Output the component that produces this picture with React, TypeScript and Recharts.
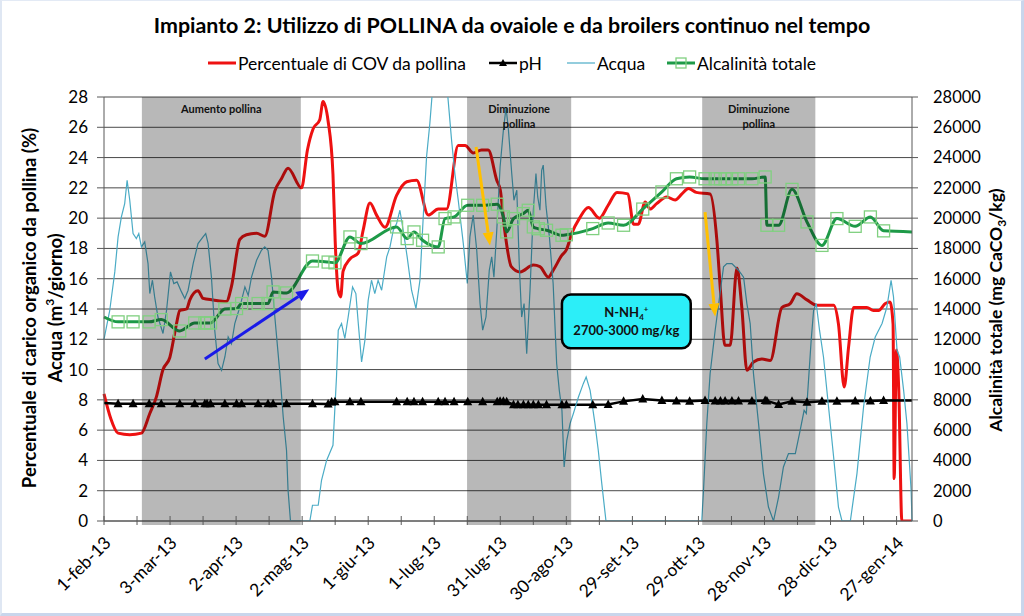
import { CartesianGrid, Line, LineChart, ReferenceArea, ReferenceLine, XAxis, YAxis } from "recharts";

// days counted from 1-feb-13
const tickDays = [0, 30, 60, 90, 120, 150, 180, 210, 240, 270, 300, 330, 360];
const tickLabels = [
  "1-feb-13", "3-mar-13", "2-apr-13", "2-mag-13", "1-giu-13", "1-lug-13", "31-lug-13",
  "30-ago-13", "29-set-13", "29-ott-13", "28-nov-13", "28-dic-13", "27-gen-14",
];
const minorTickDays = [0, 15, 30, 45, 60, 75, 90, 105, 120, 135, 150, 165, 180, 195, 210, 225, 240, 255, 270, 285, 300, 315, 330, 345, 360];
const leftTicks = [0, 2, 4, 6, 8, 10, 12, 14, 16, 18, 20, 22, 24, 26, 28];
const rightTicks = [0, 2000, 4000, 6000, 8000, 10000, 12000, 14000, 16000, 18000, 20000, 22000, 24000, 26000, 28000];

// Percentuale di COV da pollina (%)
const covPoints: [number, number][] = [
  [0, 8.4], [3, 6.8], [6.4, 5.8], [11.7, 5.7], [17, 5.8], [20.8, 7.1], [23.8, 8.2], [26.8, 10.0],
  [29.9, 10.8], [32.9, 13.0], [34.4, 13.9], [37.5, 14.0], [39, 14.6], [42.7, 15.2], [45, 14.7],
  [49.5, 14.6], [55.6, 14.5], [57.9, 15.5], [61.7, 18.6], [64.7, 18.9], [69.3, 19.0], [73, 18.8],
  [77.6, 21.8], [80.6, 22.6], [83.6, 23.3], [89.7, 22.0], [92.4, 24.5], [95, 25.9], [98, 26.5],
  [99.5, 27.7], [101.8, 26.4], [104, 22.9], [105, 18.5], [106.4, 15.2], [107.5, 14.8], [108.6, 16.5],
  [111.7, 17.3], [115.5, 17.7], [117.7, 19.2], [120.8, 21.0], [123.8, 20.2], [127.6, 19.4],
  [132.9, 21.5], [137.5, 22.4], [142, 22.5], [147.3, 20.2], [151.8, 20.6], [155.6, 20.6],
  [160.9, 24.8], [164, 24.8], [167.7, 24.3], [171.5, 24.5], [174.5, 24.5], [178.4, 22.5],
  [180, 21.85], [182, 19.2], [185, 16.8], [189, 16.45], [195, 16.9], [198, 16.8], [201.8, 16.1],
  [204, 16.55], [208, 17.55], [210, 17.9], [212.5, 19.0], [216, 20.0], [220, 20.7], [225, 20.0],
  [229, 20.85], [233, 21.7], [238, 21.6], [240.5, 19.6], [242.7, 19.6], [245.8, 21.07], [248, 20.6],
  [251, 20.96], [255.6, 21.4], [259.4, 21.2], [262.5, 21.6], [265.5, 21.95], [269, 21.7],
  [275.3, 21.6], [278.4, 18.5], [280, 15.2], [282, 11.6], [284.4, 11.6], [287.5, 16.7], [289.7, 14.1],
  [292, 9.95], [295, 10.5], [298.8, 10.7], [302.6, 10.6], [307.9, 14.1], [311.7, 14.36], [314.7, 15.0],
  [319.3, 14.6], [323.8, 14.25], [331.4, 14.25], [333.6, 13.0], [336.2, 8.85], [338.2, 11.5],
  [340.5, 14.1], [346.5, 14.1], [349.5, 13.9], [351.8, 13.9], [354.9, 14.36], [357, 14.46],
  [358.4, 13.0], [358.9, 2.8], [359.9, 11.3], [361, 8.6], [362.4, 0], [367, 0],
];

// pH
const phPoints: [number, number][] = [
  [0, 7.8], [6.4, 7.75], [13.2, 7.75], [20.5, 7.75], [26, 7.75], [34.4, 7.75], [41.2, 7.75],
  [45.8, 7.75], [46.8, 7.75], [48.4, 7.75], [54.9, 7.75], [60.2, 7.75], [62.5, 7.75], [70, 7.75],
  [74.5, 7.75], [76.8, 7.75], [82.9, 7.75], [94.7, 7.75], [101.8, 7.72], [103.4, 7.86], [104.9, 7.88],
  [111.7, 7.88], [116.7, 7.88], [132.9, 7.88], [137.7, 7.88], [140.8, 7.88], [144.7, 7.88],
  [151.8, 7.88], [154.9, 7.88], [159, 7.88], [165.2, 7.88], [172, 7.88], [178.6, 7.88], [179.9, 7.9],
  [181.4, 7.9], [182.9, 7.88], [186, 7.68], [188, 7.68], [190.5, 7.68], [192.7, 7.68], [195, 7.68],
  [197.3, 7.68], [201, 7.68], [208, 7.68], [210, 7.68], [222, 7.68], [229, 7.7], [236, 7.9],
  [244.7, 8.05], [253.4, 7.95], [260, 7.92], [266, 7.9], [273, 7.95], [277.6, 7.93], [280, 7.93],
  [282.1, 7.93], [285.2, 7.93], [288.2, 7.93], [294.3, 7.93], [300.3, 7.95], [301.1, 7.93],
  [306.4, 7.7], [312.5, 7.9], [319.3, 7.85], [326.1, 7.9], [332.9, 7.9], [341.2, 7.92],
  [348.1, 7.92], [354.1, 7.95], [367, 7.95],
];

// Acqua (m3/giorno)
const acquaPoints: [number, number][] = [
  [0, 12.0], [2.6, 13.9], [4.9, 16.45], [6.4, 18.76], [7.9, 20.08], [9.4, 20.96], [10.5, 22.5],
  [11.7, 21.18], [13.2, 18.98], [14.7, 18.65], [15.8, 18.98], [17, 18.1], [18.5, 18.43], [20, 17.0],
  [20.8, 15.02], [22, 15.9], [23, 14.8], [24.5, 13.47], [26.8, 12.38], [28.4, 13.9], [30.2, 16.45],
  [31.7, 15.68], [33.2, 15.79], [35.2, 15.13], [36.7, 14.69], [38.2, 15.24], [40.5, 17.0],
  [42.7, 18.32], [45, 18.76], [46.2, 18.98], [47.3, 18.32], [48.8, 16.1], [50.3, 12.6], [51.8, 10.4],
  [53.4, 9.95], [54.9, 10.83], [56.4, 12.15], [57.9, 11.7], [59.4, 13.04], [61.7, 14.13], [64, 15.46],
  [65.5, 14.9], [67, 16.1], [69.3, 17.22], [71.5, 17.88], [73, 18.1], [74.5, 17.88], [76.1, 16.1],
  [77.6, 13.47], [79.9, 9.73], [81.4, 6.87], [82.9, 4.67], [83.6, 2.03], [84.7, 0], [93.5, 0],
  [94.7, 1.04], [97.3, 1.04], [98.8, 2.69], [101.1, 4.0], [104, 5.0], [105.6, 9.51], [106.4, 12.6],
  [107.9, 13.04], [109.4, 12.05], [110.9, 13.47], [112.9, 15.46], [114.4, 15.02], [115.5, 13.04],
  [117, 10.5], [118.5, 11.93], [120, 14.58], [121.5, 15.9], [123, 15.02], [124.5, 15.9],
  [126.1, 15.24], [128.4, 17.44], [129.9, 18.1], [131.4, 19.2], [132.9, 19.64], [134.4, 20.52],
  [135.9, 19.2], [137.7, 17.44], [139.7, 15.24], [141.7, 14.03], [143.5, 15.9], [145, 20.08],
  [146.5, 24.04], [148, 26.25], [149.5, 29], [151, 31], [154, 31], [155.6, 29], [157.9, 25.1],
  [159.4, 22.9], [160.9, 21.18], [163.2, 18.32], [165, 15.68], [166.2, 18.76], [167.7, 20.2],
  [169.3, 17.88], [170.8, 14.36], [172, 12.6], [173.5, 13.47], [175, 16.56], [176.1, 17.44],
  [177.1, 16.1], [178.4, 19.2], [179.9, 23.38], [181.4, 25.8], [182.6, 27.3], [183.6, 26.0],
  [185.2, 22.95], [186.2, 21.18], [187.5, 21.84], [188.6, 17.0], [189.7, 13.47], [190.8, 14.36],
  [192, 11.05], [193.5, 15.24], [195, 20.52], [196.2, 22.95], [197, 21.4], [198, 20.52],
  [198.8, 23.16], [199.5, 23.5], [200.8, 20.74], [202.3, 18.76], [204, 15.68], [205.6, 10.4],
  [206.8, 8.63], [208, 7.31], [209, 3.57], [210.2, 5.33], [211.7, 6.43], [213.2, 7.1], [215.5, 8.19],
  [217.7, 9.07], [219, 9.51], [220.8, 8.63], [223, 6.43], [224.5, 4.67], [226.1, 2.47], [228, 0],
  [271.5, 0], [272.3, 2.03], [273.8, 6.43], [275.3, 9.73], [277.6, 12.6], [280, 15.24],
  [281.4, 16.78], [282.9, 17.0], [285.2, 17.0], [288.2, 16.56], [290.5, 16.1], [292, 14.36],
  [293.5, 13.04], [295, 9.73], [297.3, 6.43], [299.5, 3.13], [301.8, 0.92], [304.1, 0],
  [306.4, 1.58], [308.6, 3.57], [310.9, 4.45], [314, 4.45], [316.2, 5.99], [318, 7.31], [319, 7.1],
  [320, 9.29], [321.2, 11.93], [322.3, 13.9], [323.5, 14.36], [325, 12.6], [326.8, 10.83],
  [329.1, 7.53], [331.4, 4.23], [333.6, 0.92], [335.2, 0], [339, 0], [342, 3.13], [345, 7.53],
  [348, 10.83], [350.3, 12.15], [353.4, 13.04], [355.6, 14.13], [357.5, 15.9], [358.6, 14.8],
  [360.2, 11.27], [361.4, 10.83], [363.2, 8.63], [364.7, 6.43], [366.6, 2.03], [367, 0],
];

// Alcalinità totale (mg CaCO3/kg)
const alcalinitaPoints: [number, number][] = [
  [0, 13470], [6.4, 13150], [13.2, 13150], [20.5, 13150], [26, 13300], [34.4, 12550], [41.2, 13080],
  [45.8, 13080], [46.8, 13080], [48.4, 13080], [54.9, 14000], [60.2, 14030], [62.5, 14360],
  [70, 14360], [74.5, 14360], [76.8, 15130], [82.9, 15060], [94.7, 17170], [101.8, 17100],
  [104.9, 17050], [111.7, 18760], [116.7, 18320], [132.9, 19420], [137.7, 18650], [140.8, 19090],
  [144.7, 18540], [151.8, 18100], [154.9, 19970], [159, 20080], [165.2, 20850], [172, 20850],
  [178.6, 20920], [181.4, 20080], [182.9, 19090], [186, 19970], [190.5, 20300], [192.7, 20520],
  [195, 19420], [197.3, 19300], [201, 19200], [208, 18870], [210, 18900], [222, 19310], [229, 19680],
  [236, 19530], [244.7, 20600], [253.4, 21730], [260, 22600], [266, 22720], [273, 22600],
  [277.6, 22600], [280, 22600], [282.1, 22600], [285.2, 22600], [288.2, 22600], [294.3, 22600],
  [300.3, 22720], [301.1, 19530], [306.4, 19530], [312.5, 21900], [319.3, 19750], [326.1, 18200],
  [332.9, 19970], [341.2, 19460], [348.1, 20080], [354.1, 19160], [367, 19090],
];

const bands = [
  { from: 17.2, to: 89.4, lines: ["Aumento pollina"] },
  { from: 164.9, to: 212.2, lines: ["Diminuzione", "pollina"] },
  { from: 271.7, to: 323.1, lines: ["Diminuzione", "pollina"] },
];

const arrows = [
  { from: [45.8, 10.7], to: [93.2, 15.3], color: "#1a1ae8" },
  { from: [169, 24.7], to: [175.3, 18.2], color: "#ffc000" },
  { from: [273, 20.4], to: [277.6, 13.5], color: "#ffc000" },
];

const ammoniaBox = { from: 208, to: 266.5, low: 11.4, high: 14.95 };

const toRows = (points: [number, number][]) => points.map(([day, value]) => ({ day, value }));

const covRows = toRows(covPoints);
const phRows = toRows(phPoints);
const acquaRows = toRows(acquaPoints);
const alcalinitaRows = toRows(alcalinitaPoints);

const FONT = "Lato, 'Open Sans', sans-serif";

function DateTick({ x, y, payload }: any) {
  const idx = tickDays.indexOf(payload.value);
  const tx = x + 8;
  const ty = y + 23;
  return (
    <g>
      <line x1={x} x2={x} y1={y - 5} y2={y + 4} stroke="#595959" />
      {idx >= 0 && (
        <text
          x={tx}
          y={ty}
          transform={`rotate(-45 ${tx} ${ty})`}
          textAnchor="end"
          fontSize={17.5}
          fontFamily={FONT}
          fill="#000"
        >
          {tickLabels[idx]}
        </text>
      )}
    </g>
  );
}

function TriangleDot({ cx, cy, index }: any) {
  if (index === 0 || index === phRows.length - 1) return <g />;
  return <path d={`M${cx},${cy - 5} L${cx + 4.5},${cy + 3.5} L${cx - 4.5},${cy + 3.5} Z`} fill="#000" />;
}

function SquareDot({ cx, cy, index }: any) {
  if (index === 0 || index === alcalinitaRows.length - 1) return <g />;
  return (
    <rect x={cx - 6} y={cy - 6} width={12} height={12} fill="none" stroke="#80d080" strokeWidth={1.3} />
  );
}

function BandShape({ x, y, width, height, lines }: any) {
  return (
    <g>
      <rect x={x} y={y} width={width} height={height + 4} fill="#000" fillOpacity={0.28} />
      {lines.map((t: string, i: number) => (
        <text
          key={t}
          x={x + width / 2}
          y={y + 16 + i * 15}
          textAnchor="middle"
          fontSize={11}
          fontWeight="bold"
          fontFamily={FONT}
          fill="#111"
        >
          {t}
        </text>
      ))}
    </g>
  );
}

function ArrowShape({ x1, y1, x2, y2, color }: any) {
  const ang = Math.atan2(y2 - y1, x2 - x1);
  const len = 13;
  const half = 5.5;
  const bx = x2 - len * Math.cos(ang);
  const by = y2 - len * Math.sin(ang);
  const px = -Math.sin(ang) * half;
  const py = Math.cos(ang) * half;
  return (
    <g>
      <line x1={x1} y1={y1} x2={bx} y2={by} stroke={color} strokeWidth={3} />
      <polygon points={`${x2},${y2} ${bx + px},${by + py} ${bx - px},${by - py}`} fill={color} />
    </g>
  );
}

function BoxShape({ x, y, width, height }: any) {
  const cx = x + width / 2;
  return (
    <g>
      <rect x={x} y={y} width={width} height={height} rx={9} fill="#2ceef8" stroke="#000" strokeWidth={2.5} />
      <text x={cx} y={y + 22} textAnchor="middle" fontSize={13} fontWeight="bold" fontFamily={FONT} fill="#111">
        N-NH
        <tspan fontSize={8} dy={3}>4</tspan>
        <tspan fontSize={8} dy={-8}>+</tspan>
      </text>
      <text x={cx} y={y + 40} textAnchor="middle" fontSize={13} fontWeight="bold" fontFamily={FONT} fill="#111">
        2700-3000 mg/kg
      </text>
    </g>
  );
}

function VerticalTitle({ cx, cy, size, children }: any) {
  return (
    <div
      style={{
        position: "absolute",
        left: cx,
        top: cy,
        transform: "translate(-50%, -50%) rotate(-90deg)",
        whiteSpace: "nowrap",
        fontSize: size,
        fontWeight: 700,
        fontFamily: FONT,
        color: "#000",
      }}
    >
      {children}
    </div>
  );
}

function LegendItem({ left, label, color, width, marker }: any) {
  return (
    <div style={{ position: "absolute", left, top: 52, display: "flex", alignItems: "center", height: 22 }}>
      <svg width={28} height={14} style={{ marginRight: 2 }}>
        <line x1={0} x2={28} y1={7} y2={7} stroke={color} strokeWidth={width} />
        {marker === "triangle" && <path d="M14,3 L18,10 L10,10 Z" fill="#000" />}
        {marker === "square" && <rect x={9} y={2} width={10} height={10} fill="none" stroke="#80d080" strokeWidth={1.3} />}
      </svg>
      <span style={{ fontSize: 17.5, fontFamily: FONT, color: "#000" }}>{label}</span>
    </div>
  );
}

export default function App() {
  return (
    <div style={{ position: "absolute", left: 0, top: 0, width: 1024, height: 616, background: "#fff", overflow: "hidden" }}>
      <div
        style={{
          position: "absolute",
          left: 0,
          top: 12,
          width: 1024,
          textAlign: "center",
          fontSize: 21.4,
          fontWeight: 700,
          fontFamily: FONT,
          color: "#000",
        }}
      >
        Impianto 2: Utilizzo di POLLINA da ovaiole e da broilers continuo nel tempo
      </div>
      <LegendItem left={208} label="Percentuale di COV da pollina" color="#ee1111" width={3} />
      <LegendItem left={489} label="pH" color="#000" width={2.5} marker="triangle" />
      <LegendItem left={567} label="Acqua" color="#4bacc6" width={1.2} />
      <LegendItem left={667} label="Alcalinità totale" color="#1e9a48" width={3} marker="square" />

      <LineChart width={1024} height={616} margin={{ top: 97, right: 52, bottom: 15, left: 64 }}>
        <CartesianGrid yAxisId="left" vertical={false} stroke="#4a4a4a" />
        <XAxis
          dataKey="day"
          type="number"
          domain={[0, 367]}
          ticks={minorTickDays}
          interval={0}
          height={80}
          tickSize={0}
          tickMargin={0}
          tickLine={false}
          tick={<DateTick />}
          axisLine={{ stroke: "#595959" }}
        />
        <YAxis
          yAxisId="left"
          domain={[0, 28]}
          ticks={leftTicks}
          allowDataOverflow
          width={40}
          tickSize={7}
          tickMargin={9}
          interval={0}
          axisLine={{ stroke: "#595959" }}
          tickLine={{ stroke: "#595959" }}
          tick={{ fill: "#000", fontSize: 17, fontFamily: FONT }}
        />
        <YAxis
          yAxisId="right"
          orientation="right"
          domain={[0, 28000]}
          ticks={rightTicks}
          width={60}
          tickSize={6}
          tickMargin={15}
          interval={0}
          axisLine={{ stroke: "#595959" }}
          tickLine={{ stroke: "#595959" }}
          tick={{ fill: "#000", fontSize: 16.5, fontFamily: FONT, textAnchor: "start" }}
        />
        <Line
          yAxisId="left"
          data={covRows}
          dataKey="value"
          type="monotone"
          stroke="#ee1111"
          strokeWidth={3}
          dot={false}
          isAnimationActive={false}
        />
        <Line
          yAxisId="left"
          data={phRows}
          dataKey="value"
          type="linear"
          stroke="#000"
          strokeWidth={2.5}
          dot={<TriangleDot />}
          isAnimationActive={false}
        />
        <Line
          yAxisId="left"
          data={acquaRows}
          dataKey="value"
          type="linear"
          stroke="#4bacc6"
          strokeWidth={1.2}
          dot={false}
          isAnimationActive={false}
        />
        <Line
          yAxisId="right"
          data={alcalinitaRows}
          dataKey="value"
          type="monotone"
          stroke="#1e9a48"
          strokeWidth={3}
          dot={<SquareDot />}
          isAnimationActive={false}
        />
        {bands.map((b) => (
          <ReferenceArea
            key={b.from}
            yAxisId="left"
            x1={b.from}
            x2={b.to}
            y1={0}
            y2={28}
            zIndex={450}
            shape={(p: any) => <BandShape {...p} lines={b.lines} />}
          />
        ))}
        {arrows.map((a) => (
          <ReferenceLine
            key={a.from[0]}
            yAxisId="left"
            segment={[
              { x: a.from[0], y: a.from[1] },
              { x: a.to[0], y: a.to[1] },
            ]}
            zIndex={700}
            shape={(p: any) => <ArrowShape {...p} color={a.color} />}
          />
        ))}
        <ReferenceArea
          yAxisId="left"
          x1={ammoniaBox.from}
          x2={ammoniaBox.to}
          y1={ammoniaBox.low}
          y2={ammoniaBox.high}
          zIndex={700}
          shape={(p: any) => <BoxShape {...p} />}
        />
      </LineChart>

      <VerticalTitle cx={29} cy={308} size={18.5}>Percentuale di carico organico da pollina (%)</VerticalTitle>
      <VerticalTitle cx={54} cy={308} size={18.5}>
        Acqua (m<sup style={{ fontSize: 12 }}>3</sup>/giorno)
      </VerticalTitle>
      <VerticalTitle cx={997} cy={310} size={17.5}>
        Alcalinità totale (mg CaCO<sub style={{ fontSize: 12 }}>3</sub>/kg)
      </VerticalTitle>
      <div
        style={{
          position: "absolute",
          inset: 0,
          borderTop: "1px solid #e3eaf5",
          borderLeft: "2px solid #dfe7f3",
          borderRight: "3px solid #c9d6ec",
          borderBottom: "3px solid #c9d6ec",
          pointerEvents: "none",
        }}
      />
    </div>
  );
}
